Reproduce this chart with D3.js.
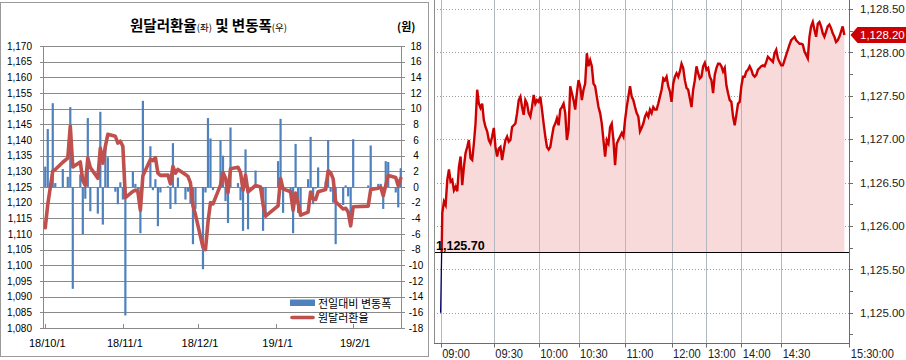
<!DOCTYPE html>
<html><head><meta charset="utf-8">
<script src="https://cdn.jsdelivr.net/npm/d3@7"></script>
<style>
html,body{margin:0;padding:0;background:#fff;}
svg{display:block;}
</style></head>
<body>
<svg id="c" width="906" height="360"></svg>
<script>
// ===== Left chart data: daily USD/KRW close and daily change =====
const dates = ["2018-10-01","2018-10-02","2018-10-04","2018-10-05","2018-10-08","2018-10-10","2018-10-11","2018-10-12","2018-10-15","2018-10-16",
"2018-10-17","2018-10-18","2018-10-19","2018-10-22","2018-10-23","2018-10-24","2018-10-25","2018-10-26","2018-10-29","2018-10-30",
"2018-10-31","2018-11-01","2018-11-02","2018-11-05","2018-11-06","2018-11-07","2018-11-08","2018-11-09","2018-11-12","2018-11-13",
"2018-11-14","2018-11-15","2018-11-16","2018-11-19","2018-11-20","2018-11-21","2018-11-22","2018-11-23","2018-11-26","2018-11-27",
"2018-11-28","2018-11-29","2018-11-30","2018-12-03","2018-12-04","2018-12-05","2018-12-06","2018-12-07","2018-12-10","2018-12-11",
"2018-12-12","2018-12-13","2018-12-14","2018-12-17","2018-12-18","2018-12-19","2018-12-20","2018-12-21","2018-12-24","2018-12-26",
"2018-12-27","2018-12-28","2019-01-02","2019-01-03","2019-01-04","2019-01-07","2019-01-08","2019-01-09","2019-01-10","2019-01-11",
"2019-01-14","2019-01-15","2019-01-16","2019-01-17","2019-01-18","2019-01-21","2019-01-22","2019-01-23","2019-01-24","2019-01-25",
"2019-01-28","2019-01-29","2019-01-30","2019-01-31","2019-02-01","2019-02-07","2019-02-08","2019-02-11","2019-02-12","2019-02-13",
"2019-02-14","2019-02-15","2019-02-18","2019-02-19","2019-02-20"];
const rates = [1112.0,1119.4,1130.1,1130.6,1132.9,1134.2,1144.4,1131.4,1133.0,1127.0,
1125.5,1134.3,1131.2,1127.8,1137.4,1132.6,1138.0,1141.8,1141.2,1139.0,
1139.6,1138.0,1121.6,1123.6,1124.0,1123.5,1117.6,1128.6,1133.8,1133.4,
1134.4,1129.4,1128.7,1128.8,1126.0,1131.6,1129.4,1130.6,1129.0,1128.4,
1126.3,1119.0,1116.2,1105.7,1105.0,1113.8,1120.0,1119.6,1125.6,1129.6,
1127.8,1123.2,1130.8,1131.3,1129.6,1124.0,1128.8,1123.4,1125.5,1125.0,
1119.4,1115.7,1119.0,1127.7,1124.4,1123.5,1117.6,1123.1,1119.8,1116.0,
1117.0,1123.4,1121.2,1121.0,1123.5,1124.2,1130.2,1129.6,1127.6,1120.3,
1118.0,1118.2,1117.0,1112.6,1118.7,1118.9,1124.2,1124.6,1125.0,1122.2,
1125.5,1128.7,1128.0,1125.4,1127.8];
const changes = [2.6,7.4,10.7,0.5,2.3,1.3,10.2,-13.0,1.6,-6.0,
-1.5,8.8,-3.1,-3.4,9.6,-4.8,5.4,3.8,-0.6,-2.2,
0.6,-1.6,-16.4,2.0,0.4,-0.5,-5.9,11.0,5.2,-0.4,
1.0,-5.0,-0.7,0.1,-2.8,5.6,-2.2,1.2,-1.6,-0.6,
-2.1,-7.3,-2.8,-10.5,-0.7,8.8,6.2,-0.4,6.0,4.0,
-1.8,-4.6,7.6,0.5,-1.7,-5.6,4.8,-5.4,2.1,-0.5,
-5.6,-3.7,3.3,8.7,-3.3,-0.9,-5.9,5.5,-3.3,-3.8,
1.0,6.4,-2.2,-0.2,2.5,0.7,6.0,-0.6,-2.0,-7.3,
-2.3,0.2,-1.2,-4.4,6.1,0.2,5.3,0.4,0.4,-2.8,
3.3,3.2,-0.7,-2.6,2.4];
const leftTicks = [1080,1085,1090,1095,1100,1105,1110,1115,1120,1125,1130,1135,1140,1145,1150,1155,1160,1165,1170];
const rightTicks = [-18,-16,-14,-12,-10,-8,-6,-4,-2,0,2,4,6,8,10,12,14,16,18];
const monthTickDates = ["2018-10-01","2018-11-01","2018-12-01","2019-01-01","2019-02-01"];
const monthTickLabels = ["18/10/1","18/11/1","18/12/1","19/1/1","19/2/1"];
const legendLabels = ["전일대비 변동폭","원달러환율"];

// ===== Right chart data: intraday USD/KRW ticks =====
const intraday = [1125.00,1126.15,1126.28,1126.24,1126.53,1126.65,1126.51,1126.53,1126.41,1126.45,
1126.40,1126.68,1126.80,1126.47,1126.68,1126.84,1126.91,1126.99,1126.78,1126.76,
1126.95,1127.18,1127.57,1127.41,1127.36,1127.41,1127.22,1127.14,1127.09,1126.99,
1126.95,1127.03,1127.13,1126.91,1126.80,1126.89,1126.91,1126.76,1126.88,1126.99,
1127.03,1126.97,1126.99,1127.14,1127.16,1127.18,1127.30,1127.45,1127.49,1127.37,
1127.28,1127.45,1127.41,1127.30,1127.26,1127.37,1127.51,1127.41,1127.45,1127.43,
1127.49,1127.34,1127.18,1127.03,1126.91,1126.88,1126.91,1127.03,1127.14,1127.18,
1127.24,1127.16,1127.34,1127.37,1127.41,1127.30,1126.99,1127.11,1127.61,1127.53,
1127.45,1127.34,1127.53,1127.68,1127.61,1127.45,1127.57,1127.64,1127.99,1127.84,
1127.91,1127.84,1127.64,1127.61,1127.49,1127.37,1127.30,1127.18,1126.99,1126.80,
1126.99,1126.95,1127.14,1127.18,1126.99,1126.70,1126.95,1126.99,1127.03,1127.07,
1127.03,1127.22,1127.37,1127.49,1127.61,1127.49,1127.45,1127.37,1127.30,1127.26,
1127.09,1127.13,1127.18,1127.26,1127.30,1127.26,1127.34,1127.30,1127.37,1127.34,
1127.34,1127.41,1127.49,1127.57,1127.70,1127.68,1127.72,1127.61,1127.55,
1127.43,1127.64,1127.72,1127.76,1127.72,1127.78,1127.87,1127.82,1127.68,1127.59,
1127.57,1127.47,1127.37,1127.57,1127.68,1127.84,1127.76,1127.70,1127.72,1127.84,
1127.88,1127.80,1127.82,1127.72,1127.68,1127.53,1127.74,1127.82,1127.87,1127.87,
1127.84,1127.78,1127.82,1127.62,1127.53,1127.45,1127.43,1127.26,1127.16,1127.28,
1127.41,1127.43,1127.61,1127.72,1127.72,1127.78,1127.80,1127.84,1127.80,1127.74,
1127.72,1127.74,1127.80,1127.82,1127.84,1127.85,1127.84,1127.89,1127.95,1127.93,
1127.91,1127.89,1127.99,1128.03,1127.93,1127.89,1127.85,1127.85,1127.91,1127.97,
1128.03,1128.09,1128.14,1128.16,1128.18,1128.14,1128.12,1128.10,1128.10,1128.09,
1128.01,1127.97,1127.93,1128.18,1128.30,1128.35,1128.26,1128.18,1128.33,1128.35,
1128.30,1128.22,1128.18,1128.24,1128.30,1128.32,1128.28,1128.22,1128.18,1128.12,
1128.14,1128.18,1128.24,1128.30,1128.20];
const prevClose = 1125.70;
const lastPrice = 1128.20;
const priceTicks = [1125.00,1125.50,1126.00,1126.50,1127.00,1127.50,1128.00,1128.50];
const priceMinorTicks = [1124.75,1125.00,1125.25,1125.50,1125.75,1126.00,1126.25,1126.50,1126.75,1127.00,1127.25,1127.50,1127.75,1128.00,1128.25,1128.50];
const timeTickPos = [0,32,59,83,111,139,160,181,205,246];
const timeTickLabels = ["09:00","09:30","10:00","10:30","11:00","12:00","13:00","14:00","14:30","15:30:00"];

// ===== Drawing =====
const svg = d3.select("#c");
const KR = "'Noto Sans CJK KR', 'Malgun Gothic', sans-serif";
const NUM = "'Liberation Sans', Arial, sans-serif";
const parse = d3.timeParse("%Y-%m-%d");
const DAY = 864e5;

function condense(sel, k) {
  sel.each(function() {
    const w = this.getComputedTextLength();
    d3.select(this).attr("textLength", (w * k).toFixed(1)).attr("lengthAdjust", "spacingAndGlyphs");
  });
}

// ---------- LEFT PANEL ----------
const L = svg.append("g");
L.append("rect").attr("x",0.5).attr("y",2.5).attr("width",428).attr("height",354)
  .attr("fill","#fff").attr("stroke","#9a9a9a");

const d0 = parse(dates[0]), d1 = parse(dates[dates.length-1]);
const xL = d3.scaleTime().domain([new Date(+d0 - 0.9*DAY), new Date(+d1 + 0.5*DAY)]).range([43,402]);
const yL = d3.scaleLinear().domain([1080,1170]).range([328,46]);
const yR = d3.scaleLinear().domain([-18,18]).range([328,46]);

L.append("g").selectAll("line").data(leftTicks).join("line")
  .attr("x1",40).attr("x2",405)
  .attr("y1",d=>Math.round(yL(d))+0.5).attr("y2",d=>Math.round(yL(d))+0.5)
  .attr("stroke","#8a8a8a").attr("stroke-width",1);
L.append("line").attr("x1",43.5).attr("x2",43.5).attr("y1",46).attr("y2",328).attr("stroke","#8a8a8a");
L.append("line").attr("x1",401.5).attr("x2",401.5).attr("y1",46).attr("y2",328).attr("stroke","#8a8a8a");
L.append("g").selectAll("line").data(monthTickDates).join("line")
  .attr("x1",d=>Math.round(xL(parse(d)))+0.5).attr("x2",d=>Math.round(xL(parse(d)))+0.5)
  .attr("y1",328).attr("y2",324).attr("stroke","#8a8a8a");

L.append("g").selectAll("rect").data(changes).join("rect")
  .attr("x",(d,i)=>xL(parse(dates[i]))-1.1).attr("width",2.2)
  .attr("y",d=>Math.min(yR(d),yR(0))).attr("height",d=>Math.abs(yR(d)-yR(0)))
  .attr("fill","#4F81BD");

const lineL = d3.line().x((d,i)=>xL(parse(dates[i]))).y(d=>yL(d));
L.append("path").datum(rates).attr("d",lineL).attr("fill","none")
  .attr("stroke","#C0504D").attr("stroke-width",3.6).attr("stroke-linejoin","round").attr("stroke-linecap","round");

L.append("g").selectAll("text").data(leftTicks).join("text")
  .attr("x",32).attr("y",d=>yL(d)+3.6).attr("text-anchor","end")
  .attr("font-family",NUM).attr("font-size",10).attr("fill","#000")
  .text(d=>d3.format(",")(d));
L.append("g").selectAll("text").data(rightTicks).join("text")
  .attr("x",416).attr("y",d=>yR(d)+3.6).attr("text-anchor","middle")
  .attr("font-family",NUM).attr("font-size",10).attr("fill","#000")
  .text(d=>d);
L.append("g").selectAll("text").data(monthTickDates).join("text")
  .attr("x",d=>xL(parse(d))+2).attr("y",347).attr("text-anchor","middle")
  .attr("font-family",NUM).attr("font-size",11).attr("fill","#000")
  .text((d,i)=>monthTickLabels[i]);

const t = L.append("text").attr("x",130).attr("y",30.5).attr("font-family",KR).attr("font-weight","bold").attr("fill","#000");
t.append("tspan").attr("font-size",14.5).text("원달러환율");
t.append("tspan").attr("font-size",9.5).attr("font-weight","normal").text("(좌)");
t.append("tspan").attr("font-size",14.5).text(" 및 변동폭");
t.append("tspan").attr("font-size",9.5).attr("font-weight","normal").text("(우)");
L.append("text").attr("x",397).attr("y",31).attr("font-family",KR).attr("font-size",11).attr("font-weight","bold").text("(원)");

L.append("rect").attr("x",290).attr("y",299.5).attr("width",25).attr("height",6.5).attr("fill","#4F81BD");
L.append("line").attr("x1",292).attr("x2",313).attr("y1",317.5).attr("y2",317.5)
  .attr("stroke","#C0504D").attr("stroke-width",3.6).attr("stroke-linecap","round");
L.append("g").selectAll("text").data(legendLabels).join("text")
  .attr("x",318).attr("y",(d,i)=>307.5+i*14.5).attr("font-family",KR).attr("font-size",11).attr("fill","#000")
  .text(d=>d);

// ---------- RIGHT PANEL ----------
const R = svg.append("g");
const xP = d3.scaleLinear().domain([-4,245.8]).range([434,849]);
const yP = d3.scaleLinear().domain([1125,1128.5]).range([312.7,9]);
const baseY = yP(prevClose);

R.append("defs").html(
  `<clipPath id="above"><rect x="434" y="0" width="415" height="${baseY}"/></clipPath>
   <clipPath id="below"><rect x="434" y="${baseY}" width="415" height="${343-baseY}"/></clipPath>`);

R.append("g").selectAll("line").data(priceTicks).join("line")
  .attr("x1",434).attr("x2",849).attr("y1",d=>Math.round(yP(d))+0.5).attr("y2",d=>Math.round(yP(d))+0.5)
  .attr("stroke","#9c9c9c").attr("stroke-dasharray","1,2");

const area = d3.area().x((d,i)=>xP(i)).y0(baseY).y1(d=>yP(d));
R.append("path").datum(intraday).attr("d",area).attr("fill","#F9DADB").attr("clip-path","url(#above)");

R.append("g").selectAll("line").data(timeTickPos).join("line")
  .attr("x1",d=>Math.round(xP(d))+0.5).attr("x2",d=>Math.round(xP(d))+0.5)
  .attr("y1",0).attr("y2",343).attr("stroke","#b3b8c0");

const lineP = d3.line().x((d,i)=>xP(i)).y(d=>yP(d));
R.append("path").datum(intraday).attr("d",lineP).attr("fill","none")
  .attr("stroke","#CC0000").attr("stroke-width",2.4).attr("stroke-linejoin","miter").attr("clip-path","url(#above)");
R.append("path").datum(intraday).attr("d",lineP).attr("fill","none")
  .attr("stroke","#000066").attr("stroke-width",1.3).attr("clip-path","url(#below)");

R.append("line").attr("x1",434).attr("x2",849).attr("y1",Math.round(baseY)+0.5).attr("y2",Math.round(baseY)+0.5)
  .attr("stroke","#000").attr("stroke-width",1.2);
R.append("text").attr("x",436).attr("y",baseY-2.3).attr("font-family",NUM).attr("font-weight","bold")
  .attr("font-size",12.5).attr("fill","#000").text(d3.format(",.2f")(prevClose));

R.append("line").attr("x1",434.5).attr("x2",434.5).attr("y1",0).attr("y2",343).attr("stroke","#8c8c8c");
R.append("line").attr("x1",849.5).attr("x2",849.5).attr("y1",0).attr("y2",347).attr("stroke","#6c6c6c");
R.append("line").attr("x1",434).attr("x2",850).attr("y1",343.5).attr("y2",343.5).attr("stroke","#6c6c6c");

R.append("g").selectAll("line").data(priceMinorTicks).join("line")
  .attr("x1",849).attr("x2",853).attr("y1",d=>Math.round(yP(d))+0.5).attr("y2",d=>Math.round(yP(d))+0.5)
  .attr("stroke","#6c6c6c");
R.append("g").selectAll("text").data(priceTicks).join("text")
  .attr("x",860).attr("y",d=>yP(d)+4.2).attr("font-family",NUM).attr("font-size",11.5).attr("fill","#222")
  .text(d=>d3.format(",.2f")(d));

R.append("g").selectAll("line").data(timeTickPos).join("line")
  .attr("x1",d=>Math.round(xP(d))+0.5).attr("x2",d=>Math.round(xP(d))+0.5)
  .attr("y1",343).attr("y2",347.5).attr("stroke","#6c6c6c");
R.append("g").selectAll("text").data(timeTickPos).join("text")
  .attr("x",d=>xP(d)+1.5).attr("y",357.5).attr("font-family",NUM).attr("font-size",13.5).attr("fill","#222")
  .text((d,i)=>timeTickLabels[i]).call(condense,0.82);

const ly = yP(lastPrice);
R.append("path").attr("d",`M850.5,${ly} L857.5,${ly-8} L906,${ly-8} L906,${ly+8} L857.5,${ly+8} Z`).attr("fill","#CC0000");
R.append("text").attr("x",860).attr("y",ly+4.2).attr("font-family",NUM).attr("font-size",11.5).attr("fill","#fff")
  .text(d3.format(",.2f")(lastPrice));
</script>
</body></html>
